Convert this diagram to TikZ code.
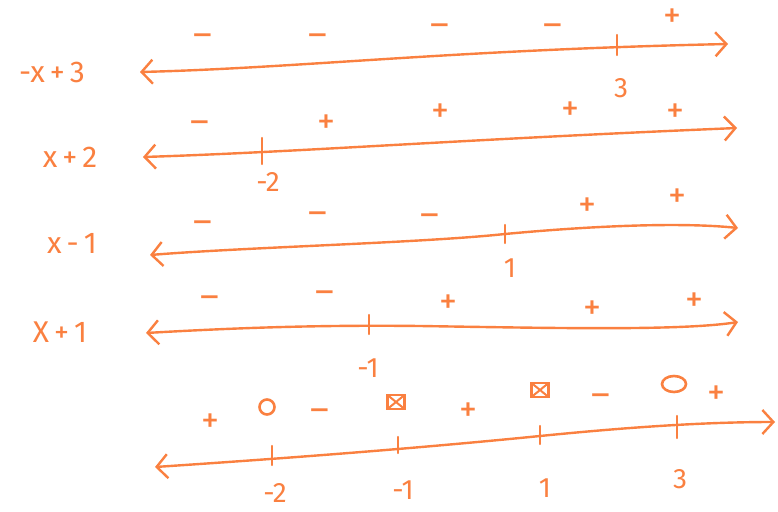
\documentclass[tikz,border=0pt]{standalone}
\usepackage{fontspec}
\setmainfont{Fira Sans}
\usetikzlibrary{arrows.meta,shapes.geometric}
\definecolor{pen}{RGB}{250,128,64}
\tikzset{
  axis/.style={pen, line width=2.4pt, line cap=round, line join=round,
    {Straight Barb[length=11pt,width=24pt,line width=2.4pt]}-{Straight Barb[length=11pt,width=24pt,line width=2.4pt]}},
  tk/.style={pen, line width=2.4pt, line cap=round},
  fn/.style={text=pen, font=\fontsize{30}{32}\selectfont, inner sep=0pt},
  num/.style={text=pen, font=\fontsize{28}{30}\selectfont, inner sep=0pt},
  sg/.style={text=pen, font=\fontsize{36}{38}\selectfont, inner sep=0pt},
  zero/.style={draw=pen, line width=2.6pt, ellipse, inner sep=0pt},
  undef/.style={draw=pen, line width=2.6pt, rectangle, minimum width=17pt, minimum height=14pt, inner sep=0pt,
    path picture={\draw[pen, line width=2pt] (path picture bounding box.south west) -- (path picture bounding box.north east)
      (path picture bounding box.north west) -- (path picture bounding box.south east);}},
}
\begin{document}
\begin{tikzpicture}[x=1pt,y=-1pt]
\useasboundingbox (0,0) rectangle (778,511);
\fill[white] (0,0) rectangle (778,511);

% ---- row 1 : -x+3
\node[fn] (f1) at (52,72) {-x\,+\,3};
\coordinate (a1l) at (140,72);
\coordinate (a1r) at (728,44);
\draw[axis] (a1l) .. controls (300,68) and (450,50) .. (a1r);
\coordinate (t1) at (617,46);
\draw[tk] ([yshift=-9pt]t1) -- ([yshift=11pt]t1);
\node[num] (n1) at (621,88) {3};
\node[sg] (s11) at (203,40) {–};
\node[sg] (s12) at (318,40) {–};
\node[sg] (s13) at (440,30) {–};
\node[sg] (s14) at (553,30) {–};
\node[sg] (s15) at (672,18) {+};

% ---- row 2 : x+2
\node[fn] (f2) at (70,157) {x\,+\,2};
\coordinate (a2l) at (143,157);
\coordinate (a2r) at (737,128);
\draw[axis] (a2l) .. controls (300,152) and (450,140) .. (a2r);
\coordinate (t2) at (262,150);
\draw[tk] ([yshift=-14pt]t2) -- ([yshift=12pt]t2);
\node[num] (n2) at (268,182) {-2};
\node[sg] (s21) at (200,127) {–};
\node[sg] (s22) at (326,124) {+};
\node[sg] (s23) at (440,113) {+};
\node[sg] (s24) at (570,111) {+};
\node[sg] (s25) at (675,113) {+};

% ---- row 3 : x-1
\node[fn] (f3) at (72,243) {x\,-\,1};
\coordinate (a3l) at (150,255);
\coordinate (a3r) at (738,228);
\draw[axis] (a3l) .. controls (250,247) and (420,243) .. (505,234) .. controls (590,226) and (680,222) .. (a3r);
\coordinate (t3) at (505,233);
\draw[tk] ([yshift=-10pt]t3) -- ([yshift=8pt]t3);
\node[num] (n3) at (510,268) {1};
\node[sg] (s31) at (203,227) {–};
\node[sg] (s32) at (318,218) {–};
\node[sg] (s33) at (430,220) {–};
\node[sg] (s34) at (587,207) {+};
\node[sg] (s35) at (677,198) {+};

% ---- row 4 : X+1
\node[fn] (f4) at (60,332) {X\,+\,1};
\coordinate (a4l) at (146,333);
\coordinate (a4r) at (738,322);
\draw[axis] (a4l) .. controls (250,327) and (330,325) .. (420,326) .. controls (550,328) and (680,331) .. (a4r);
\coordinate (t4) at (369,325);
\draw[tk] ([yshift=-9pt]t4) -- ([yshift=10pt]t4);
\node[num] (n4) at (368,368) {-1};
\node[sg] (s41) at (210,302) {–};
\node[sg] (s42) at (325,297) {–};
\node[sg] (s43) at (448,304) {+};
\node[sg] (s44) at (592,310) {+};
\node[sg] (s45) at (694,302) {+};

% ---- row 5 : result
\coordinate (a5l) at (155,467);
\coordinate (a5r) at (775,422);
\draw[axis] (a5l) .. controls (260,460) and (400,450) .. (540,436) .. controls (620,428) and (700,422) .. (a5r);
\coordinate (t51) at (272,458);
\coordinate (t52) at (398,445);
\coordinate (t53) at (540,436);
\coordinate (t54) at (677,428);
\draw[tk] ([yshift=-7pt]t51) -- ([yshift=12pt]t51);
\draw[tk] ([yshift=-8pt]t52) -- ([yshift=8pt]t52);
\draw[tk] ([yshift=-8pt]t53) -- ([yshift=10pt]t53);
\draw[tk] ([yshift=-10pt]t54) -- ([yshift=12pt]t54);
\node[num] (n51) at (275,493) {-2};
\node[num] (n52) at (403,490) {-1};
\node[num] (n53) at (545,488) {1};
\node[num] (n54) at (680,479) {3};
\node[sg] (s51) at (210,423) {+};
\node[zero, minimum width=15pt, minimum height=15pt] (s52) at (267,407) {};
\node[sg] (s53) at (320,415) {–};
\node[undef] (s54) at (396,402) {};
\node[sg] (s55) at (468,412) {+};
\node[undef] (s56) at (540,390) {};
\node[sg] (s57) at (601,400) {–};
\node[zero, minimum width=24pt, minimum height=16pt] (s58) at (674,384) {};
\node[sg] (s59) at (716,395) {+};
\end{tikzpicture}
\end{document}
